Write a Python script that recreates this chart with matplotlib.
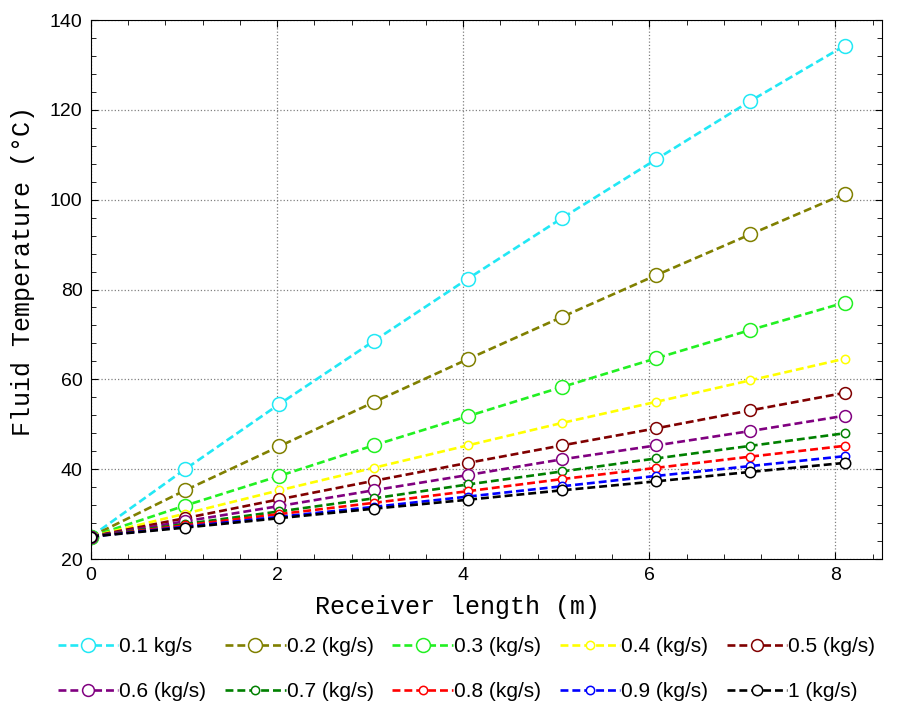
import matplotlib
matplotlib.use("Agg")
import matplotlib.pyplot as plt
from matplotlib.ticker import MultipleLocator

# receiver positions (m)
x = [0, 1.0125, 2.025, 3.0375, 4.05, 5.0625, 6.075, 7.0875, 8.1]

labels = ["0.1 kg/s", "0.2 (kg/s)", "0.3 (kg/s)", "0.4 (kg/s)", "0.5 (kg/s)",
          "0.6 (kg/s)", "0.7 (kg/s)", "0.8 (kg/s)", "0.9 (kg/s)", "1 (kg/s)"]

t01 = [25, 40.0, 54.5, 68.5, 82.4, 95.9, 109.0, 122.0, 134.3]
t02 = [25, 35.3, 45.1, 54.9, 64.5, 73.9, 83.2, 92.3, 101.3]
t03 = [25, 31.9, 38.5, 45.3, 51.8, 58.3, 64.7, 71.0, 77.1]
t04 = [25, 30.1, 35.3, 40.3, 45.3, 50.3, 55.0, 59.8, 64.6]
t05 = [25, 29.1, 33.3, 37.4, 41.4, 45.3, 49.1, 53.1, 57.0]
t06 = [25, 28.4, 31.8, 35.3, 38.7, 42.2, 45.3, 48.5, 51.9]
t07 = [25, 27.8, 30.6, 33.5, 36.6, 39.5, 42.4, 45.2, 48.0]
t08 = [25, 27.5, 30.0, 32.5, 35.1, 37.8, 40.3, 42.8, 45.2]
t09 = [25, 27.2, 29.4, 31.6, 33.9, 36.2, 38.5, 40.7, 42.9]
t10 = [25, 27.0, 29.1, 31.2, 33.2, 35.3, 37.3, 39.4, 41.4]
series = [t01, t02, t03, t04, t05, t06, t07, t08, t09, t10]

colors = ["#22E8F5", "#808000", "#22F022", "#FFFF00", "#800000",
          "#800080", "#008000", "#FF0000", "#0000FF", "#000000"]
msizes = [10, 10, 10, 6, 8.5, 8.5, 6, 6, 6, 7.5]

mono = ["Liberation Mono", "DejaVu Sans Mono"]
sans = ["Liberation Sans", "DejaVu Sans"]

fig = plt.figure(figsize=(8.97, 7.03), dpi=100)
ax = fig.add_axes([0.1014, 0.2048, 0.8818, 0.7667])

handles = []
for y, c, ms, lab in zip(series, colors, msizes, labels):
    h, = ax.plot(x, y, color=c, lw=1.9, dashes=(3, 1.5), marker="o", ms=ms,
                 mfc="white", mec=c, mew=1.1, label=lab)
    handles.append(h)

ax.set_xlim(0, 8.5)
ax.set_ylim(20, 140)
ax.xaxis.set_major_locator(MultipleLocator(2))
ax.xaxis.set_minor_locator(MultipleLocator(0.4))
ax.yaxis.set_major_locator(MultipleLocator(20))
ax.yaxis.set_minor_locator(MultipleLocator(4))
ax.tick_params(which="both", direction="in", top=True, right=True)
ax.tick_params(which="major", length=5, labelsize=14, pad=6)
ax.tick_params(which="minor", length=3.5)
for lab in ax.get_xticklabels() + ax.get_yticklabels():
    lab.set_family(sans)
ax.grid(True, which="major", color="#808080", linestyle=":", lw=0.9)

ax.set_xlabel("Receiver length (m)", family=mono, fontsize=18)
ax.set_ylabel("Fluid Temperature (°C)", family=mono, fontsize=18)
ax.xaxis.set_label_coords(0.464, -0.067)
ax.yaxis.set_label_coords(-0.071, 0.534)

# legend laid out in two rows of five, filled row by row
order = [0, 5, 1, 6, 2, 7, 3, 8, 4, 9]
fig.legend([handles[i] for i in order], [labels[i] for i in order],
           ncol=5, loc="upper left", bbox_to_anchor=(58 / 897, 1 - 637 / 703),
           frameon=False, borderpad=0, borderaxespad=0,
           handlelength=2.9, handletextpad=0.05,
           columnspacing=0.9, labelspacing=1.25,
           prop={"family": sans, "size": 15})

fig.savefig("out.png", dpi=100)
